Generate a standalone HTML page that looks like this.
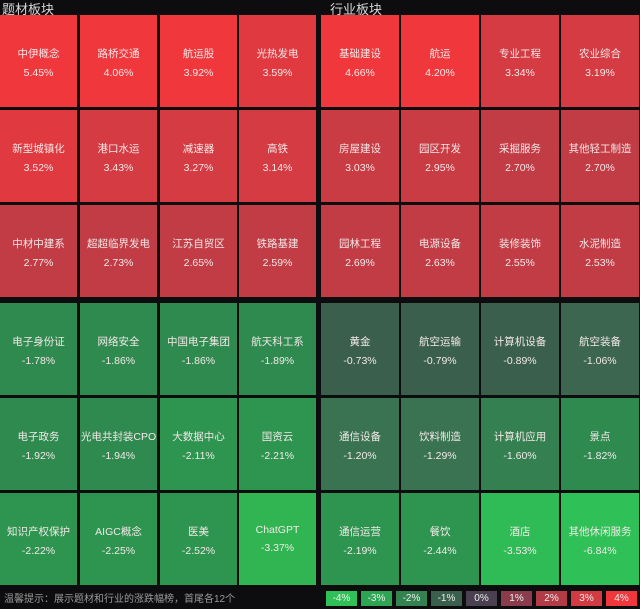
<!DOCTYPE html><html><head><meta charset="utf-8"><style>
body{margin:0;width:640px;height:609px;background:#0d0d0f;position:relative;overflow:hidden;font-family:"Liberation Sans","Noto Sans CJK SC",sans-serif;}
.h{position:absolute;top:-1px;font-size:13px;color:#d8d8d8;}
.t{position:absolute;width:77px;height:92px;color:#f3e8e8;font-size:10.5px;text-align:center;}
.t div:first-child{margin-top:31px;}
.t div:last-child{margin-top:6px;}
.f{position:absolute;left:4px;top:590px;font-size:10px;color:#9a9a9a;}
.lg{position:absolute;top:591px;height:15px;width:31px;font-size:10px;color:#eee;text-align:center;line-height:15px;}
</style></head><body>
<div class="h" style="left:2px">题材板块</div><div class="h" style="left:330px">行业板块</div>
<div id="g"></div>
<div class="f">温馨提示：展示题材和行业的涨跌幅榜，首尾各12个</div>
<script>
var L=[["中伊概念","5.45%"],["路桥交通","4.06%"],["航运股","3.92%"],["光热发电","3.59%"],["新型城镇化","3.52%"],["港口水运","3.43%"],["减速器","3.27%"],["高铁","3.14%"],["中材中建系","2.77%"],["超超临界发电","2.73%"],["江苏自贸区","2.65%"],["铁路基建","2.59%"],["电子身份证","-1.78%"],["网络安全","-1.86%"],["中国电子集团","-1.86%"],["航天科工系","-1.89%"],["电子政务","-1.92%"],["光电共封装CPO","-1.94%"],["大数据中心","-2.11%"],["国资云","-2.21%"],["知识产权保护","-2.22%"],["AIGC概念","-2.25%"],["医美","-2.52%"],["ChatGPT","-3.37%"]];
var R=[["基础建设","4.66%"],["航运","4.20%"],["专业工程","3.34%"],["农业综合","3.19%"],["房屋建设","3.03%"],["园区开发","2.95%"],["采掘服务","2.70%"],["其他轻工制造","2.70%"],["园林工程","2.69%"],["电源设备","2.63%"],["装修装饰","2.55%"],["水泥制造","2.53%"],["黄金","-0.73%"],["航空运输","-0.79%"],["计算机设备","-0.89%"],["航空装备","-1.06%"],["通信设备","-1.20%"],["饮料制造","-1.29%"],["计算机应用","-1.60%"],["景点","-1.82%"],["通信运营","-2.19%"],["餐饮","-2.44%"],["酒店","-3.53%"],["其他休闲服务","-6.84%"]];
function col(v){v=parseFloat(v);
if(v>=3.9)return"#ef373c";if(v>=3.5)return"#e03a40";if(v>=3.1)return"#d43b42";if(v>=2.9)return"#c93c44";if(v>0)return"#c23c45";
if(v>-0.95)return"#3b5f4d";if(v>-1.1)return"#3c6650";if(v>-1.35)return"#3a7351";if(v>-1.7)return"#358051";if(v>-2.0)return"#2f8a50";if(v>-3)return"#2e9550";if(v>-3.45)return"#30b552";if(v>-4)return"#2fbb55";return"#2fc057";}
var xs=[[0,80,160,239],[321,401,481,561]],ys=[15,110,205,303,398,493],h="";
[L,R].forEach(function(a,p){a.forEach(function(d,i){var c=i%4,r=(i/4)|0;
h+='<div class="t" style="left:'+xs[p][c]+'px;top:'+ys[r]+'px;width:'+(p?78:77)+'px;background:'+col(d[1])+'"><div>'+d[0]+'</div><div>'+d[1]+'</div></div>';});});
var lc=["#2fc057","#2ea552","#33824f","#3b5f4d","#4a4050","#8a3c4c","#b23c45","#d23b42","#ef373c"],lt=["-4%","-3%","-2%","-1%","0%","1%","2%","3%","4%"];
lc.forEach(function(c,i){h+='<div class="lg" style="left:'+(326+i*35)+'px;background:'+c+'">'+lt[i]+'</div>';});
document.getElementById("g").innerHTML=h;
</script></body></html>
